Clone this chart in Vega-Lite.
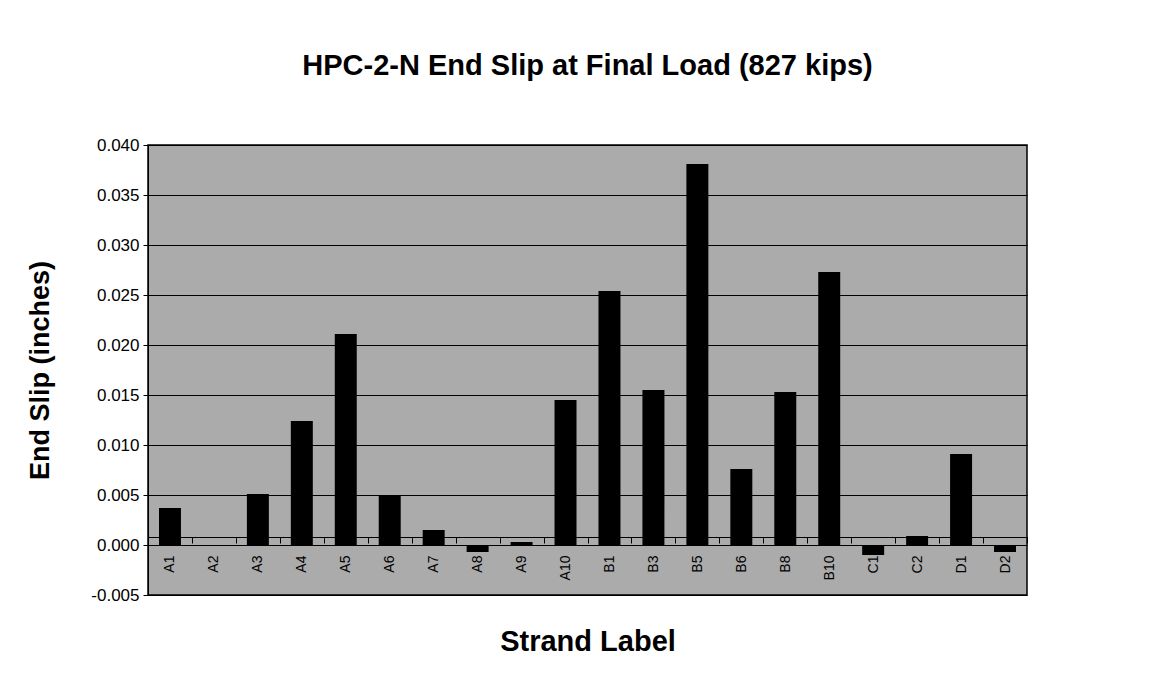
{
  "$schema": "https://vega.github.io/schema/vega-lite/v6.json",
  "autosize": "none",
  "width": 879,
  "height": 450,
  "padding": {"left": 148, "top": 145, "right": 141, "bottom": 86},
  "background": "white",
  "title": {
    "text": "HPC-2-N End Slip at Final Load (827 kips)",
    "font": "Liberation Sans",
    "fontSize": 29,
    "fontWeight": "bold",
    "color": "black",
    "anchor": "middle",
    "offset": 55
  },
  "data": {
    "values": [
      {"strand": "A1", "slip": 0.0037},
      {"strand": "A2", "slip": 0.0},
      {"strand": "A3", "slip": 0.0051},
      {"strand": "A4", "slip": 0.0124},
      {"strand": "A5", "slip": 0.0211},
      {"strand": "A6", "slip": 0.0049},
      {"strand": "A7", "slip": 0.0015},
      {"strand": "A8", "slip": -0.0007},
      {"strand": "A9", "slip": 0.0003},
      {"strand": "A10", "slip": 0.0145},
      {"strand": "B1", "slip": 0.0254},
      {"strand": "B3", "slip": 0.0155},
      {"strand": "B5", "slip": 0.0381},
      {"strand": "B6", "slip": 0.0076},
      {"strand": "B8", "slip": 0.0153},
      {"strand": "B10", "slip": 0.0273},
      {"strand": "C1", "slip": -0.0010},
      {"strand": "C2", "slip": 0.0009},
      {"strand": "D1", "slip": 0.0091},
      {"strand": "D2", "slip": -0.0007}
    ]
  },
  "mark": {"type": "bar", "color": "black", "width": {"band": 0.5}},
  "encoding": {
    "x": {
      "field": "strand",
      "type": "nominal",
      "sort": null,
      "scale": {"paddingInner": 0, "paddingOuter": 0},
      "axis": {
        "title": "Strand Label",
        "titleFont": "Liberation Sans",
        "titleFontSize": 29,
        "titleFontWeight": "bold",
        "titleColor": "black",
        "titlePadding": 48,
        "labelAngle": -90,
        "labelFont": "Liberation Sans",
        "labelFontSize": 14,
        "labelColor": "black",
        "labelPadding": 12,
        "offset": -58,
        "domainColor": "black",
        "domainWidth": 1,
        "tickColor": "black",
        "tickBand": "extent",
        "tickSize": 6,
        "grid": false
      }
    },
    "y": {
      "field": "slip",
      "type": "quantitative",
      "scale": {"domain": [-0.005, 0.04], "nice": false, "zero": false},
      "axis": {
        "title": "End Slip (inches)",
        "titleFont": "Liberation Sans",
        "titleFontSize": 27,
        "titleFontWeight": "bold",
        "titleColor": "black",
        "titlePadding": 36,
        "values": [-0.005, 0, 0.005, 0.01, 0.015, 0.02, 0.025, 0.03, 0.035, 0.04],
        "format": ".3f",
        "labelExpr": "replace(datum.label, '−', '-')",
        "labelFont": "Liberation Sans",
        "labelFontSize": 17,
        "labelColor": "black",
        "labelPadding": 4,
        "tickColor": "black",
        "tickSize": 5,
        "domainColor": "black",
        "grid": true,
        "gridColor": "black",
        "gridWidth": 1,
        "gridOpacity": 1
      }
    }
  },
  "config": {
    "view": {"fill": "#ababab", "stroke": "black", "strokeWidth": 1.5}
  }
}
